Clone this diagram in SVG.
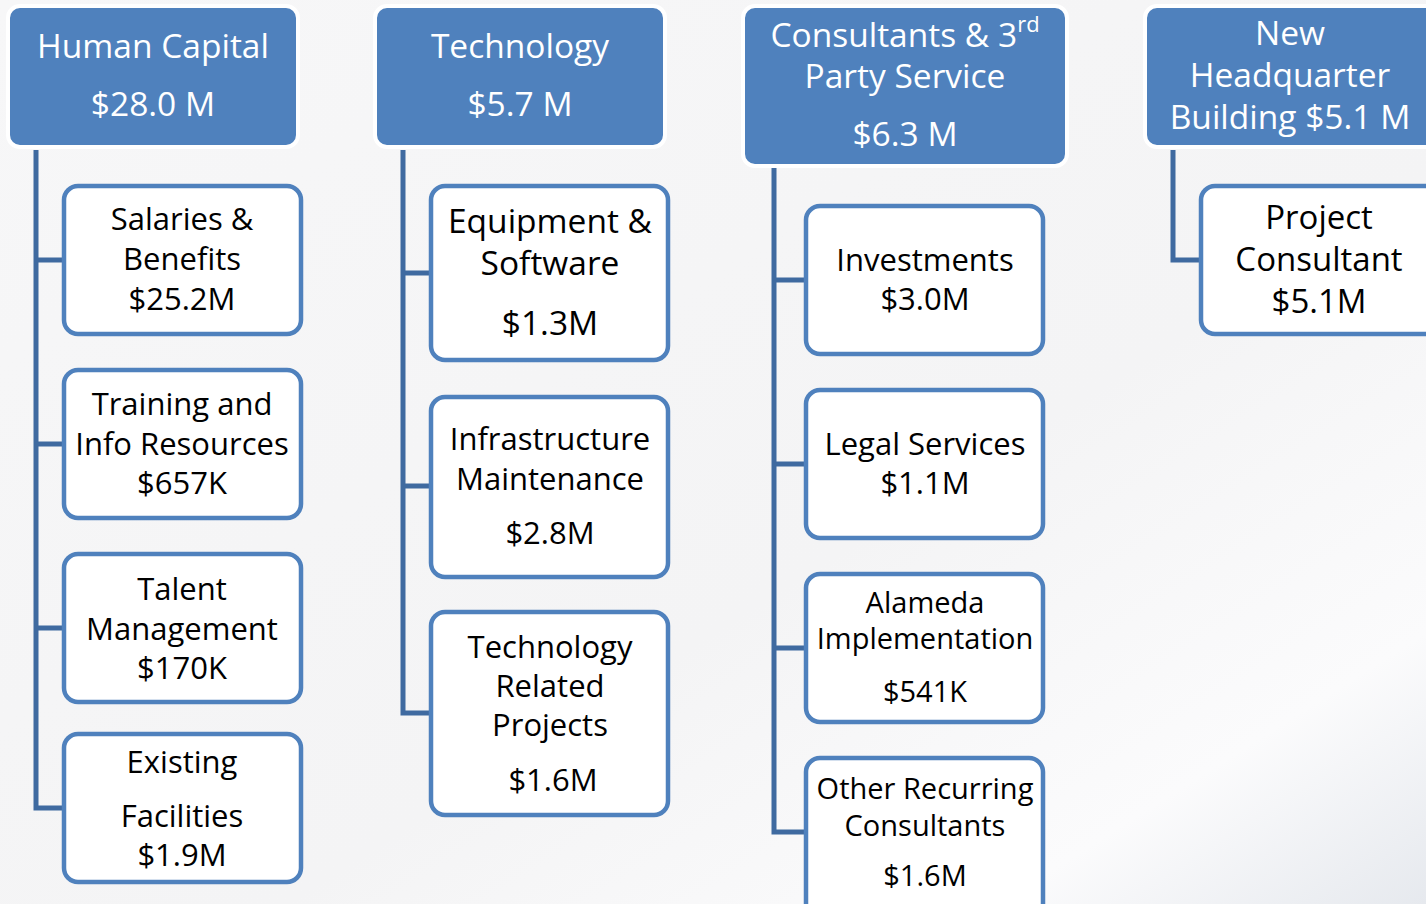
<svg xmlns="http://www.w3.org/2000/svg" width="1426" height="904" viewBox="0 0 1426 904">
<defs>
<linearGradient id="bg" x1="0" y1="0" x2="1" y2="1">
<stop offset="0" stop-color="#f7f7f8"/>
<stop offset="0.6" stop-color="#f4f4f5"/>
<stop offset="0.85" stop-color="#fbfbfc"/>
<stop offset="1" stop-color="#e6e9ee"/>
</linearGradient>
<style>
.hdr{fill:#4f81bd;stroke:#ffffff;stroke-width:4}
.box{fill:#ffffff;stroke:#4f81bd;stroke-width:4.5}
.ht{font-family:"Open Sans","DejaVu Sans",sans-serif;font-size:33.5px;fill:#ffffff;text-anchor:middle}
.ct{font-family:"Open Sans","DejaVu Sans",sans-serif;font-size:31px;fill:#000000;text-anchor:middle}
.big{font-size:33.5px}
.pc{font-size:33px}
.sm{font-size:29px}
.sup{font-size:22px}
.con{fill:none;stroke:#3f6aa0;stroke-width:5}
</style>
</defs>
<rect x="0" y="0" width="1426" height="904" fill="url(#bg)"/>

<g id="connectors">
<path class="con" d="M36 150 V808 H64 M36 260 H64 M36 444 H64 M36 628 H64"/>
<path class="con" d="M403 150 V713 H431 M403 273 H431 M403 486 H431"/>
<path class="con" d="M774 168 V832 H806 M774 280 H806 M774 464 H806 M774 648 H806"/>
<path class="con" d="M1173 150 V260 H1201"/>
</g>

<g id="hc">
<rect class="hdr" x="8" y="6" width="290" height="141" rx="12"/>
<text class="ht" x="153" y="58">Human Capital</text>
<text class="ht" x="153" y="116">$28.0 M</text>
</g>
<g id="tech">
<rect class="hdr" x="375" y="6" width="290" height="141" rx="12"/>
<text class="ht" x="520" y="58">Technology</text>
<text class="ht" x="520" y="116">$5.7 M</text>
</g>
<g id="cons">
<rect class="hdr" x="743" y="6" width="324" height="160" rx="12"/>
<text class="ht" x="905" y="47">Consultants &amp; 3<tspan class="sup" baseline-shift="super">rd</tspan></text>
<text class="ht" x="905" y="88">Party Service</text>
<text class="ht" x="905" y="146">$6.3 M</text>
</g>
<g id="hq">
<rect class="hdr" x="1145" y="6" width="300" height="141" rx="12"/>
<text class="ht" x="1290" y="45">New</text>
<text class="ht" x="1290" y="87">Headquarter</text>
<text class="ht" x="1290" y="129">Building $5.1 M</text>
</g>

<g id="salaries">
<rect class="box" x="64" y="186" width="237" height="148" rx="14"/>
<text class="ct" x="182" y="230">Salaries &amp;</text>
<text class="ct" x="182" y="270">Benefits</text>
<text class="ct" x="182" y="310">$25.2M</text>
</g>
<g id="training">
<rect class="box" x="64" y="370" width="237" height="148" rx="14"/>
<text class="ct" x="182" y="415">Training and</text>
<text class="ct" x="182" y="455">Info Resources</text>
<text class="ct" x="182" y="494">$657K</text>
</g>
<g id="talent">
<rect class="box" x="64" y="554" width="237" height="148" rx="14"/>
<text class="ct" x="182" y="600">Talent</text>
<text class="ct" x="182" y="640">Management</text>
<text class="ct" x="182" y="679">$170K</text>
</g>
<g id="existing">
<rect class="box" x="64" y="734" width="237" height="148" rx="14"/>
<text class="ct" x="182" y="773">Existing</text>
<text class="ct" x="182" y="827">Facilities</text>
<text class="ct" x="182" y="866">$1.9M</text>
</g>

<g id="equipment">
<rect class="box" x="431" y="186" width="237" height="174" rx="14"/>
<text class="ct big" x="550" y="233">Equipment &amp;</text>
<text class="ct big" x="550" y="275">Software</text>
<text class="ct big" x="550" y="335">$1.3M</text>
</g>
<g id="infra">
<rect class="box" x="431" y="397" width="237" height="180" rx="14"/>
<text class="ct" x="550" y="450">Infrastructure</text>
<text class="ct" x="550" y="490">Maintenance</text>
<text class="ct" x="550" y="544">$2.8M</text>
</g>
<g id="techproj">
<rect class="box" x="431" y="612" width="237" height="203" rx="14"/>
<text class="ct" x="550" y="658">Technology</text>
<text class="ct" x="550" y="697">Related</text>
<text class="ct" x="550" y="736">Projects</text>
<text class="ct" x="553" y="791">$1.6M</text>
</g>

<g id="investments">
<rect class="box" x="806" y="206" width="237" height="148" rx="14"/>
<text class="ct" x="925" y="271">Investments</text>
<text class="ct" x="925" y="310">$3.0M</text>
</g>
<g id="legal">
<rect class="box" x="806" y="390" width="237" height="148" rx="14"/>
<text class="ct" x="925" y="455">Legal Services</text>
<text class="ct" x="925" y="494">$1.1M</text>
</g>
<g id="alameda">
<rect class="box" x="806" y="574" width="237" height="148" rx="14"/>
<text class="ct sm" x="925" y="613">Alameda</text>
<text class="ct sm" x="925" y="649">Implementation</text>
<text class="ct sm" x="925" y="702">$541K</text>
</g>
<g id="other">
<rect class="box" x="806" y="758" width="237" height="160" rx="14"/>
<text class="ct sm" x="925" y="799">Other Recurring</text>
<text class="ct sm" x="925" y="836">Consultants</text>
<text class="ct sm" x="925" y="886">$1.6M</text>
</g>

<g id="project">
<rect class="box" x="1201" y="186" width="240" height="148" rx="14"/>
<text class="ct pc" x="1319" y="229">Project</text>
<text class="ct pc" x="1319" y="271">Consultant</text>
<text class="ct pc" x="1319" y="313">$5.1M</text>
</g>
</svg>
